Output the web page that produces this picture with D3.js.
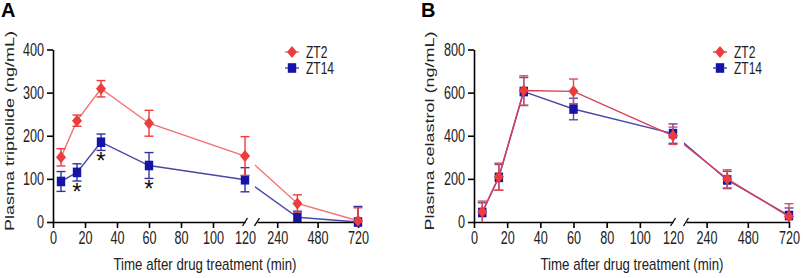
<!DOCTYPE html>
<html>
<head>
<meta charset="utf-8">
<script src="https://cdn.jsdelivr.net/npm/d3@7"></script>
<style>
  body { margin: 0; background: #fff; }
  svg { display: block; font-family: "Liberation Sans", Arial, sans-serif; }
</style>
</head>
<body>
<svg id="chart" width="803" height="278"></svg>
<script>
// sampling times (min)
const timePoints = [5, 15, 30, 60, 120, 360, 720];
const seriesNames = ["ZT2", "ZT14"];

// panel A - triptolide (ng/mL), mean and error
const tripZT2 = [150, 235, 309, 229, 153, 43, 3];
const tripZT2Err = [20, 13, 19, 30, 45, 20, 30];
const tripZT14 = [94, 115, 185, 131, 98, 11, 0];
const tripZT14Err = [23, 20, 19, 30, 28, 14, 36];
const tripStars = [15, 30, 60];

// panel B - celastrol (ng/mL)
const celZT2 = [47, 210, 610, 606, 400, 200, 25];
const celZT2Err = [50, 63, 68, 57, 40, 42, 60];
const celZT14 = [44, 207, 605, 524, 410, 195, 30];
const celZT14Err = [45, 60, 65, 50, 45, 40, 35];

const yTicksA = [0, 100, 200, 300, 400];
const yTicksB = [0, 200, 400, 600, 800];
const xTicksEarly = [0, 20, 40, 60, 80, 100, 120];
const xTicksLate = [240, 480, 720];

const RED = "#ee3b3b", RED_LINE = "#f27272";
const BLUE = "#1414a8", BLUE_LINE = "#4a4aa6", BLUE_ERR = "#3434a0";
const SQ = 0.7; // the figure is squeezed horizontally

const svg = d3.select("#chart");

function squeeze(sel, k) {
  sel.each(function () {
    const w = this.getComputedTextLength();
    d3.select(this).attr("textLength", w * k).attr("lengthAdjust", "spacingAndGlyphs");
  });
}

function marker(g, shape, x, y, color) {
  if (shape === "diamond") {
    g.append("path")
      .attr("d", `M${x},${y - 6}L${x + 5},${y}L${x},${y + 6}L${x - 5},${y}Z`)
      .attr("fill", color);
  } else {
    g.append("rect")
      .attr("x", x - 4.2).attr("y", y - 4.8)
      .attr("width", 8.4).attr("height", 9.6)
      .attr("fill", color);
  }
}

function drawPanel(cfg) {
  const g = svg.append("g");

  const y = d3.scaleLinear().domain([0, cfg.yMax]).range([222, 49.5]);
  const s1 = d3.scaleLinear().domain([0, 120]).range([cfg.x0, cfg.x120]);
  const s2 = d3.scaleLinear().domain([120, 720]).range([cfg.xBreak, cfg.xEnd]);
  const xPos = t => (t <= 120 ? s1(t) : s2(t));

  // y axis
  const ya = g.append("g")
    .attr("transform", `translate(${cfg.x0},0)`)
    .call(d3.axisLeft(y).tickValues(cfg.yTicks).tickSize(6).tickSizeOuter(0).tickPadding(3));
  // x axis, two segments
  const xa1 = g.append("g")
    .attr("transform", "translate(0,222)")
    .call(d3.axisBottom(s1).tickValues(xTicksEarly).tickSize(6).tickSizeOuter(0).tickPadding(3));
  xa1.selectAll(".tick").filter(d => d === 120).select("line").remove();
  const xa2 = g.append("g")
    .attr("transform", "translate(0,222)")
    .call(d3.axisBottom(s2).tickValues(xTicksLate).tickSize(6).tickSizeOuter(0).tickPadding(3));

  [ya, xa1, xa2].forEach(a => {
    a.select(".domain").attr("stroke", "#000").attr("stroke-width", 1.6);
    a.selectAll(".tick line").attr("stroke", "#000").attr("stroke-width", 1.6);
    a.selectAll(".tick text")
      .attr("fill", "#222").style("font-size", "18px")
      .call(squeeze, SQ);
  });

  // break marks
  [cfg.x120, cfg.xBreak].forEach(bx => {
    g.append("line")
      .attr("x1", bx - 2.5).attr("y1", 226)
      .attr("x2", bx + 2.5).attr("y2", 218)
      .attr("stroke", "#000").attr("stroke-width", 1.3);
  });

  // clip out the gap between the segments
  const clipId = "clip" + cfg.id;
  const clip = svg.append("clipPath").attr("id", clipId);
  clip.append("rect").attr("x", 0).attr("y", 0).attr("width", cfg.x120 + 1).attr("height", 278);
  clip.append("rect").attr("x", cfg.xBreak - 2).attr("y", 0).attr("width", 400).attr("height", 278);

  const line = d3.line().x(d => xPos(d.t)).y(d => y(d.v));

  cfg.series.forEach(s => {
    const pts = timePoints.map((t, i) => ({ t: t, v: s.mean[i], e: s.err[i] }));
    const sg = g.append("g");

    sg.append("path")
      .datum(pts)
      .attr("d", line)
      .attr("fill", "none")
      .attr("stroke", s.lineColor)
      .attr("stroke-width", 1.4)
      .attr("clip-path", `url(#${clipId})`);

    pts.forEach(p => {
      const px = xPos(p.t);
      const lo = Math.max(0, p.v - p.e), hi = p.v + p.e;
      sg.append("line")
        .attr("x1", px).attr("x2", px)
        .attr("y1", y(lo)).attr("y2", y(hi))
        .attr("stroke", s.errColor).attr("stroke-width", 1.4);
      sg.append("line")
        .attr("x1", px - 4.5).attr("x2", px + 4.5)
        .attr("y1", y(hi)).attr("y2", y(hi))
        .attr("stroke", s.errColor).attr("stroke-width", 1.4);
      if (p.v - p.e >= 0) {
        sg.append("line")
          .attr("x1", px - 4.5).attr("x2", px + 4.5)
          .attr("y1", y(lo)).attr("y2", y(lo))
          .attr("stroke", s.errColor).attr("stroke-width", 1.4);
      }
    });

    pts.forEach(p => marker(sg, s.shape, xPos(p.t), y(p.v), s.color));
  });

  // significance stars under the ZT14 points
  if (cfg.stars) {
    const ref = cfg.series[0];
    cfg.stars.forEach(t => {
      const i = timePoints.indexOf(t);
      const lo = ref.mean[i] - ref.err[i];
      g.append("text")
        .attr("x", xPos(t)).attr("y", y(lo) + 19)
        .attr("text-anchor", "middle")
        .style("font-size", "24px")
        .attr("fill", "#111")
        .text("*");
    });
  }

  // legend
  const order = [cfg.series[1], cfg.series[0]];
  order.forEach((s, i) => {
    const ly = 52 + i * 16;
    g.append("line")
      .attr("x1", cfg.legX - 7).attr("x2", cfg.legX + 7)
      .attr("y1", ly).attr("y2", ly)
      .attr("stroke", s.lineColor).attr("stroke-width", 1.4);
    marker(g, s.shape, cfg.legX, ly, s.color);
    g.append("text")
      .attr("x", cfg.legX + 14).attr("y", ly + 5.5)
      .attr("fill", "#222")
      .style("font-size", "16px")
      .text(s.name)
      .call(squeeze, 0.75);
  });

  // axis titles
  g.append("text")
    .attr("x", cfg.xTitleX).attr("y", 270)
    .attr("text-anchor", "middle")
    .attr("fill", "#222")
    .style("font-size", "17px")
    .text("Time after drug treatment (min)")
    .call(squeeze, 0.78);

  g.append("text")
    .attr("transform", `translate(${cfg.yTitleX},131) scale(0.75,1) rotate(-90)`)
    .attr("text-anchor", "middle")
    .attr("fill", "#222")
    .style("font-size", "18px")
    .text(cfg.yTitle);

  // panel letter
  g.append("text")
    .attr("x", cfg.letterX).attr("y", 17)
    .style("font-size", "20px")
    .style("font-weight", "bold")
    .attr("fill", "#000")
    .text(cfg.letter);
}

drawPanel({
  id: "A", letter: "A", letterX: 1,
  x0: 53, x120: 245, xBreak: 257, xEnd: 358,
  yMax: 400, yTicks: yTicksA,
  yTitle: "Plasma triptolide (ng/mL)", yTitleX: 14, xTitleX: 205,
  legX: 292, stars: tripStars,
  series: [
    { name: seriesNames[1], mean: tripZT14, err: tripZT14Err, shape: "square", color: BLUE, lineColor: BLUE_LINE, errColor: BLUE_ERR },
    { name: seriesNames[0], mean: tripZT2, err: tripZT2Err, shape: "diamond", color: RED, lineColor: RED_LINE, errColor: RED }
  ]
});

drawPanel({
  id: "B", letter: "B", letterX: 421,
  x0: 474, x120: 673, xBreak: 686, xEnd: 789,
  yMax: 800, yTicks: yTicksB,
  yTitle: "Plasma celastrol (ng/mL)", yTitleX: 434, xTitleX: 632,
  legX: 720,
  series: [
    { name: seriesNames[1], mean: celZT14, err: celZT14Err, shape: "square", color: BLUE, lineColor: BLUE_LINE, errColor: "#5a4aa8" },
    { name: seriesNames[0], mean: celZT2, err: celZT2Err, shape: "diamond", color: RED, lineColor: "#d8405a", errColor: "#e04a5a" }
  ]
});
</script>
</body>
</html>
